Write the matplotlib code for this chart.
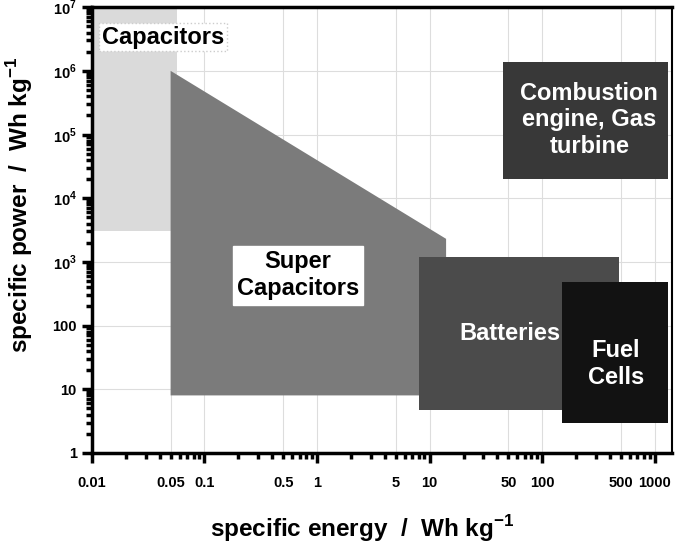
import matplotlib
matplotlib.use("Agg")
import matplotlib.pyplot as plt
from matplotlib.ticker import FixedLocator, FixedFormatter, NullFormatter

plt.rcParams['font.family'] = ['Liberation Sans', 'DejaVu Sans']
plt.rcParams['font.weight'] = 'bold'
plt.rcParams['mathtext.fontset'] = 'custom'
plt.rcParams['mathtext.rm'] = 'Liberation Sans:bold'
plt.rcParams['mathtext.bf'] = 'Liberation Sans:bold'

# rectangles: energy range (Wh/kg) and power range (W/kg)
box_names = ["Capacitors", "Batteries", "Fuel Cells", "Combustion"]
box_e_lo = [0.01, 8.0, 150, 45]
box_e_hi = [0.057, 480, 1300, 1300]
box_p_lo = [3000, 4.7, 3.0, 2.0e4]
box_p_hi = [1.0e7, 1200, 480, 1.4e6]
box_colors = ["#dadada", "#4b4b4b", "#121212", "#383838"]

# super capacitors outline
sc_energy = [0.05, 14.0, 14.0, 0.05]
sc_power = [8.0, 8.0, 2300, 1.0e6]

xtick_vals = [0.01, 0.05, 0.1, 0.5, 1, 5, 10, 50, 100, 500, 1000]
xtick_text = ["0.01", "0.05", "0.1", "0.5", "1", "5", "10", "50", "100", "500", "1000"]
ytick_vals = [1, 10, 100, 1e3, 1e4, 1e5, 1e6, 1e7]
ytick_text = ["1", "10", "100", r"10$^{3}$", r"10$^{4}$", r"10$^{5}$", r"10$^{6}$", r"10$^{7}$"]

fig = plt.figure(figsize=(6.86, 5.51), dpi=100)
ax = fig.add_axes([0.134, 0.178, 0.846, 0.809])
ax.set_xscale("log")
ax.set_yscale("log")
ax.set_xlim(0.01, 1430)
ax.set_ylim(1, 1e7)
ax.set_axisbelow(True)

# grid at decades and at the 5s
for v in xtick_vals:
    ax.axvline(v, color="#dddddd", lw=0.8, zorder=0)
for v in ytick_vals:
    ax.axhline(v, color="#dddddd", lw=0.8, zorder=0)

def box(i, z):
    xs = [box_e_lo[i], box_e_hi[i], box_e_hi[i], box_e_lo[i]]
    ys = [box_p_lo[i], box_p_lo[i], box_p_hi[i], box_p_hi[i]]
    ax.fill(xs, ys, color=box_colors[i], lw=0, zorder=z)

box(0, 1)
ax.fill(sc_energy, sc_power, color="#7b7b7b", lw=0, zorder=2)
box(1, 3)
box(2, 4)
box(3, 3)

fs = 17
ax.text(0.122, 0.933, "Capacitors", transform=ax.transAxes, ha="center", va="center",
        fontsize=fs, fontweight="bold", zorder=6,
        bbox=dict(facecolor="white", edgecolor="#cccccc", linestyle=":", pad=2))
ax.text(0.355, 0.399, "Super\nCapacitors", transform=ax.transAxes, ha="center", va="center",
        fontsize=fs, fontweight="bold", zorder=6, linespacing=1.25,
        bbox=dict(facecolor="white", edgecolor="white", pad=3))
ax.text(0.721, 0.269, "Batteries", transform=ax.transAxes, ha="center", va="center",
        fontsize=fs, fontweight="bold", color="white", zorder=6)
ax.text(0.903, 0.2, "Fuel\nCells", transform=ax.transAxes, ha="center", va="center",
        fontsize=fs, fontweight="bold", color="white", zorder=6, linespacing=1.2)
ax.text(0.857, 0.747, "Combustion\nengine, Gas\nturbine", transform=ax.transAxes,
        ha="center", va="center", fontsize=fs, fontweight="bold", color="white",
        zorder=6, linespacing=1.2)

ax.xaxis.set_major_locator(FixedLocator([0.01, 0.1, 1, 10, 100, 1000]))
ax.xaxis.set_major_formatter(NullFormatter())
ax.xaxis.set_minor_formatter(NullFormatter())
for v, t in zip(xtick_vals, xtick_text):
    ax.text(v, -0.068, t, transform=ax.get_xaxis_transform(), ha="center", va="center",
            fontsize=10.5, fontweight="bold")

ax.yaxis.set_major_locator(FixedLocator(ytick_vals))
ax.yaxis.set_major_formatter(FixedFormatter(ytick_text))
ax.yaxis.set_minor_formatter(NullFormatter())

ax.tick_params(axis="both", which="major", direction="out", length=7, width=2.5,
               labelsize=10.5, pad=4)
ax.tick_params(axis="both", which="minor", direction="out", length=4, width=2.5)
ax.tick_params(top=False, right=False, which="both")

for side in ["left", "bottom", "top"]:
    ax.spines[side].set_linewidth(2.5)
ax.spines["right"].set_linewidth(1.5)

ax.set_xlabel(r"specific energy  /  Wh kg$^{-1}$", fontsize=17.5, fontweight="bold")
ax.set_ylabel(r"specific power  /  Wh kg$^{-1}$", fontsize=17.5, fontweight="bold")
ax.xaxis.set_label_coords(0.465, -0.135)
ax.yaxis.set_label_coords(-0.098, 0.556)

fig.savefig("out.png", dpi=100)
